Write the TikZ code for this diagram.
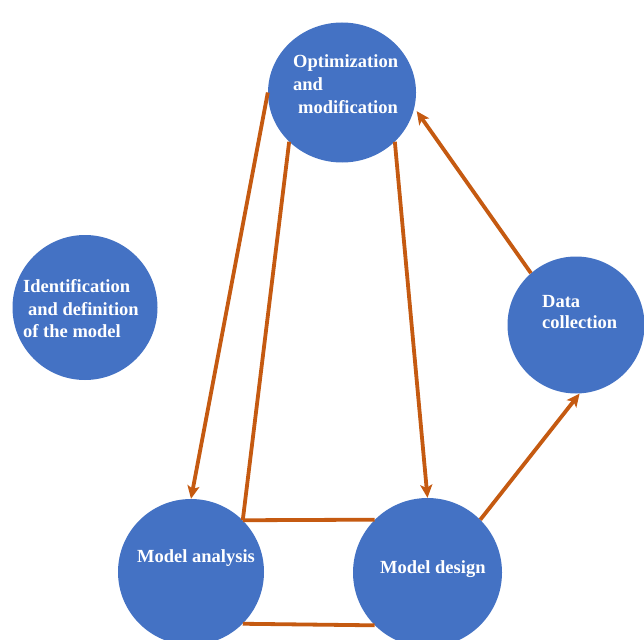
\documentclass[tikz,border=0pt]{standalone}
\usepackage{fontspec}
\setmainfont{Liberation Serif}
\usetikzlibrary{shapes.geometric,arrows.meta}
\definecolor{cblue}{HTML}{4472C4}
\definecolor{corange}{HTML}{C55A11}
\tikzset{
  bubble/.style={circle,fill=cblue,draw=none,inner sep=0pt},
  oval/.style={ellipse,fill=cblue,draw=none,inner sep=0pt},
  txt/.style={text=white,inner sep=0pt,align=left,font=\fontsize{18.5}{23}\selectfont\bfseries},
  link/.style={draw=corange,line width=3.8pt},
  arr/.style={link,-{Stealth[length=13pt,width=12pt,inset=3pt]}}
}
\begin{document}
\begin{tikzpicture}[x=1pt,y=-1pt]
\useasboundingbox (0,0) rectangle (644,639);
\fill[white] (0,0) rectangle (644,639);
% circles
\node[oval,minimum width=148pt,minimum height=140pt] (opt) at (342,92.5) {};
\node[bubble,minimum size=145pt] (ident) at (85,307.5) {};
\node[bubble,minimum size=137pt] (data) at (576,325) {};
\node[bubble,minimum size=146pt] (ana) at (191,572) {};
\node[bubble,minimum size=149pt] (des) at (427.5,572.5) {};
% texts
\node[txt,anchor=north west] (optt) at (293,54) {Optimization\\and\\\hspace*{5pt}modification};
\node[txt,anchor=north west,font=\fontsize{18.5}{22.5}\selectfont\bfseries] (identt) at (23,279.5) {Identification\\\hspace*{5pt}and definition\\of the model};
\node[txt,anchor=north west,font=\fontsize{18.5}{21}\selectfont\bfseries] (datat) at (542,295.5) {Data\\collection};
\node[txt,anchor=base west] (anat) at (137,562) {Model analysis};
\node[txt,anchor=base west] (dest) at (380,573) {Model design};
% connectors
\draw[arr] (opt.west) -- (ana.north);
\draw[link] (opt.223) -- (ana.45);
\draw[link] (ana.45) -- (des.135);
\draw[link] (ana.-45) -- (des.-135);
\draw[arr] (opt.-43) -- (des.north);
\draw[arr] (des.45) -- (data.-87);
\draw[arr,shorten >=4pt] (data.131) -- (opt.-12);
\end{tikzpicture}
\end{document}
